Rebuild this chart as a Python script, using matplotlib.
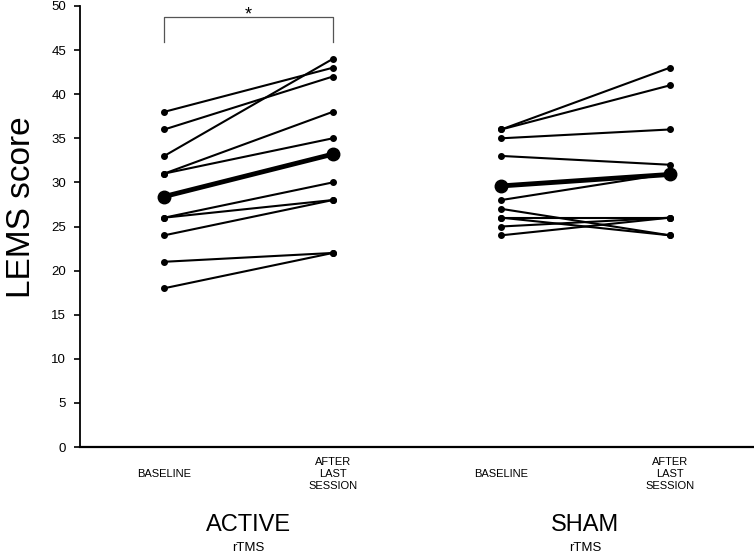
import matplotlib
matplotlib.use("Agg")
import matplotlib.pyplot as plt
from matplotlib import font_manager

plt.rcParams['font.family'] = ['Liberation Sans', 'DejaVu Sans']

# Data
active_baseline = [38, 36, 33, 31, 31, 26, 26, 24, 21, 18]
active_after = [43, 42, 44, 38, 35, 30, 28, 28, 22, 22]
sham_baseline = [36, 36, 35, 33, 28, 27, 26, 26, 25, 24]
sham_after = [43, 41, 36, 32, 31, 24, 26, 24, 26, 26]
active_mean = [28.4, 33.2]
sham_mean = [29.6, 30.9]
x_labels = ["BASELINE", "AFTER\nLAST\nSESSION", "BASELINE", "AFTER\nLAST\nSESSION"]
group_labels = ["ACTIVE", "SHAM"]
group_sub = ["rTMS", "rTMS"]
y_ticks = [0, 5, 10, 15, 20, 25, 30, 35, 40, 45, 50]

names = {f.name for f in font_manager.fontManager.ttflist}
narrow = ['Liberation Sans Narrow', 'Liberation Sans'] if 'Liberation Sans Narrow' in names else ['Liberation Sans']

fig = plt.figure(figsize=(7.54, 5.54), dpi=100)
ax = fig.add_axes([80/754, (554-447)/554, (754-80)/754, (447-6)/554])

xpos = [0, 1, 2, 3]
for b, a in zip(active_baseline, active_after):
    ax.plot([xpos[0], xpos[1]], [b, a], color='black', lw=1.5, marker='o', ms=4, zorder=2)
for b, a in zip(sham_baseline, sham_after):
    ax.plot([xpos[2], xpos[3]], [b, a], color='black', lw=1.5, marker='o', ms=4, zorder=2)
ax.plot([xpos[0], xpos[1]], active_mean, color='black', lw=3.5, marker='o', ms=9, zorder=3)
ax.plot([xpos[2], xpos[3]], sham_mean, color='black', lw=3.5, marker='o', ms=9, zorder=3)

ax.set_xlim(-0.5, 3.5)
ax.set_ylim(0, 50)
ax.set_yticks(y_ticks)
ax.tick_params(axis='y', direction='out', length=4, width=1.2, pad=6, labelsize=9.5)
ax.set_xticks([])
for s in ['top', 'right']:
    ax.spines[s].set_visible(False)
ax.spines['left'].set_linewidth(1.3)
ax.spines['bottom'].set_linewidth(1.6)

for x, lab in zip(xpos, x_labels):
    ax.annotate(lab, xy=(x, 0), xycoords=('data', 'axes fraction'),
                xytext=(0, -19.5), textcoords='offset points',
                ha='center', va='center', fontsize=8, linespacing=1.2,
                multialignment='center')

for gx, g, sub in zip([0.5, 2.5], group_labels, group_sub):
    ax.annotate(g, xy=(gx, 0), xycoords=('data', 'axes fraction'),
                xytext=(0, -56.5), textcoords='offset points',
                ha='center', va='center', fontsize=17)
    ax.annotate(sub, xy=(gx, 0), xycoords=('data', 'axes fraction'),
                xytext=(0, -72.5), textcoords='offset points',
                ha='center', va='center', fontsize=9.5, family=narrow)

# significance bracket
ax.plot([xpos[0], xpos[0], xpos[1], xpos[1]], [45.9, 48.7, 48.7, 45.9],
        color='#555555', lw=0.9, clip_on=False)
ax.text(0.5, 49.0, '*', ha='center', va='center', fontsize=13)

fig.text(22/754, 1 - 207/554, 'LEMS score', rotation=90, ha='center', va='center', fontsize=24)

fig.savefig('out.png', dpi=100)
